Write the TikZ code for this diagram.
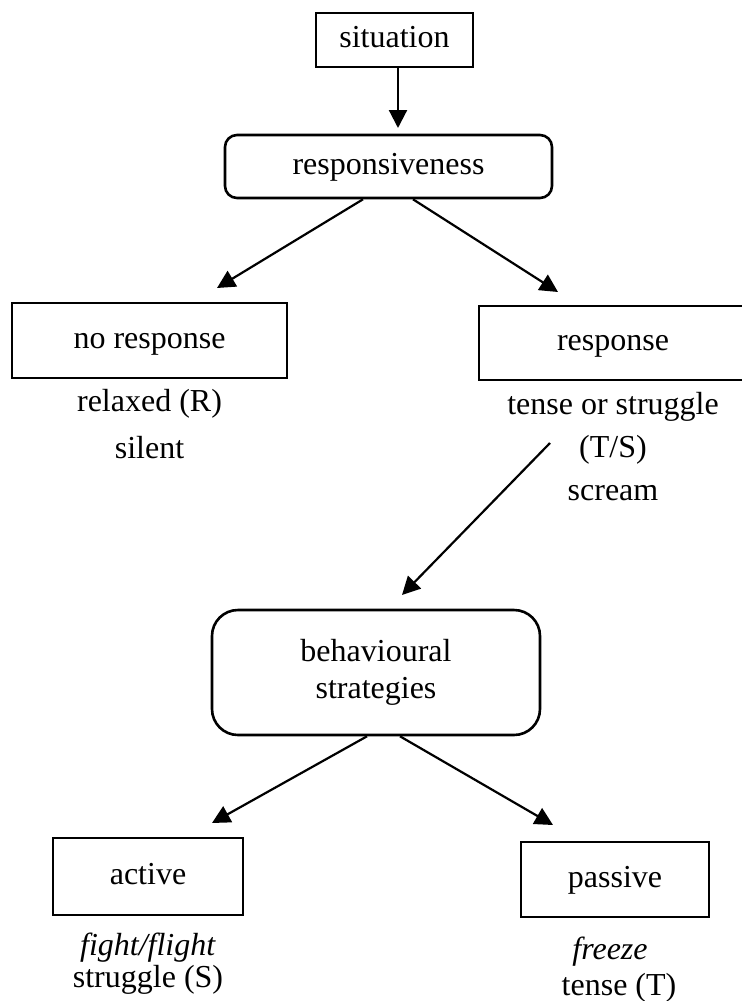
\documentclass[tikz,border=0pt]{standalone}
\usepackage{fontspec}
\setmainfont{Liberation Serif}
\usetikzlibrary{positioning,calc}
\usetikzlibrary{arrows.meta}
\tikzset{
  frame/.style={draw=black,line width=1.3pt,inner sep=0pt},
  box/.style={frame,text height=11pt,text depth=3.5pt},
  rbox/.style={box,rounded corners=6pt},
  bigbox/.style={frame,rounded corners=13pt,align=center},
  note/.style={inner sep=0pt,align=center},
  arr/.style={draw=black,line width=1.1pt,-{Triangle[length=9pt,width=9pt]}},
}

\begin{document}
\begin{tikzpicture}[x=0.5pt,y=-0.5pt,font=\fontsize{16}{19}\selectfont]
\useasboundingbox (0,0) rectangle (741,1001);
% boxes
\node[box,minimum width=78.5pt,minimum height=27pt] (sit) at (394.5,40) {situation};
\node[rbox,minimum width=163.5pt,minimum height=31.5pt] (resp) at (388.5,166.5) {responsiveness};
\node[box,minimum width=137.5pt,minimum height=37.5pt] (nores) at (149.5,340.5) {no response};
\node[box,minimum width=134pt,minimum height=37pt] (yesres) at (613,343) {response};
\node[bigbox,minimum width=164pt,minimum height=62.5pt,font=\fontsize{16}{18.5}\selectfont] (beh) at (376,672.5) {behavioural\\strategies};
\node[box,minimum width=95pt,minimum height=38.5pt] (act) at (148,876.5) {active};
\node[box,minimum width=94pt,minimum height=37.5pt] (pas) at (615,879.5) {passive};
% texts under the boxes
\node[note,below=5pt of nores,font=\fontsize{16}{23.5}\selectfont] (nolab) {relaxed (R)\\silent};
\node[note,below=5.5pt of yesres,font=\fontsize{16}{21.5}\selectfont] (yeslab) {tense or struggle\\(T/S)\\scream};
\node[note,below=8pt of act,font=\fontsize{16}{16}\selectfont] (actlab) {\textit{fight/flight}\\struggle (S)};
\node[note,below=9pt of pas,xshift=2pt,font=\fontsize{16}{18}\selectfont] (paslab) {\textit{freeze}\hspace*{9pt}\\tense (T)};
% arrows
\coordinate (tipResp) at (398,128);
\coordinate (tipNo) at (217,288);
\coordinate (tipYes) at (558,292);
\coordinate (fromYes) at (550,443);
\coordinate (tipBeh) at (402,595);
\coordinate (tipAct) at (212,823);
\coordinate (tipPas) at (553,825);
\draw[arr] (sit.south -| tipResp) -- (tipResp);
\draw[arr] ($(resp.south)+(-25.5,0)$) -- (tipNo);
\draw[arr] ($(resp.south)+(24.5,0)$) -- (tipYes);
\draw[arr] (fromYes) -- (tipBeh);
\draw[arr] ($(beh.south)+(-9,0)$) -- (tipAct);
\draw[arr] ($(beh.south)+(24,0)$) -- (tipPas);
\end{tikzpicture}
\end{document}
